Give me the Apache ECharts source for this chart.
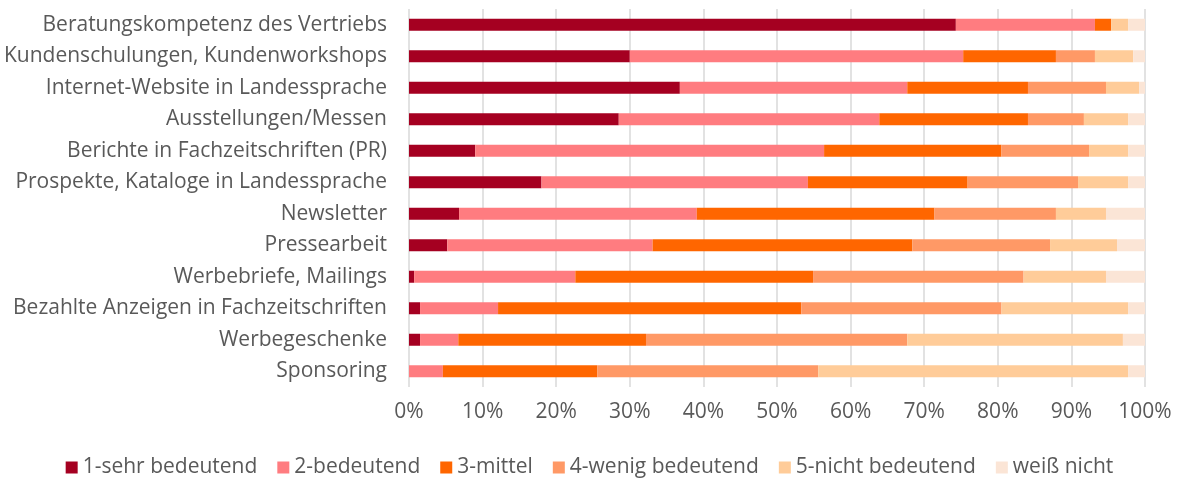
<!DOCTYPE html>
<html lang="de">
<head>
<meta charset="UTF-8">
<title>Bedeutung</title>
<style>
  html, body { margin: 0; padding: 0; background: #fff; }
  #main { width: 1179px; height: 482px; }
</style>
<script src="https://cdn.jsdelivr.net/npm/echarts@6/dist/echarts.min.js"></script>
</head>
<body>
<div id="main"></div>
<script>
// Kategorien von oben nach unten
var categories = [
  'Beratungskompetenz des Vertriebs',
  'Kundenschulungen, Kundenworkshops',
  'Internet-Website in Landessprache',
  'Ausstellungen/Messen',
  'Berichte in Fachzeitschriften (PR)',
  'Prospekte, Kataloge in Landessprache',
  'Newsletter',
  'Pressearbeit',
  'Werbebriefe, Mailings',
  'Bezahlte Anzeigen in Fachzeitschriften',
  'Werbegeschenke',
  'Sponsoring'
];

// Anteile in %
var sehrBedeutend  = [74.3, 30.0, 36.8, 28.5,  9.0, 18.0,  6.8,  5.2,  0.7,  1.5,  1.5,  0.0];
var bedeutend      = [18.9, 45.3, 30.9, 35.4, 47.4, 36.2, 32.3, 27.9, 21.9, 10.6,  5.2,  4.6];
var mittel         = [ 2.2, 12.6, 16.4, 20.2, 24.1, 21.7, 32.3, 35.3, 32.3, 41.2, 25.5, 21.0];
var wenigBedeutend = [ 0.0,  5.3, 10.6,  7.6, 11.9, 15.0, 16.5, 18.7, 28.6, 27.2, 35.5, 30.0];
var nichtBedeutend = [ 2.3,  5.2,  4.5,  6.0,  5.3,  6.8,  6.8,  9.1, 11.2, 17.2, 29.3, 42.1];
var weissNicht     = [ 2.3,  1.6,  0.8,  2.3,  2.3,  2.3,  5.3,  3.8,  5.3,  2.3,  3.0,  2.3];

var seriesNames = ['1-sehr bedeutend', '2-bedeutend', '3-mittel', '4-wenig bedeutend', '5-nicht bedeutend', 'weiß nicht'];
var seriesData = [sehrBedeutend, bedeutend, mittel, wenigBedeutend, nichtBedeutend, weissNicht];
var colors = ['#A50021', '#FF7C80', '#FF6600', '#FF9966', '#FFCC99', '#FBE5D6'];

var font = 'Open Sans';
var myChart = echarts.init(document.getElementById('main'));

var option = {
  animation: false,
  color: colors,
  legend: {
    bottom: -1,
    left: 'center',
    itemWidth: 12,
    itemHeight: 12,
    itemGap: 20,
    icon: 'rect',
    textStyle: { color: '#595959', fontSize: 21, fontFamily: font },
    data: seriesNames
  },
  grid: { left: 409, right: 34, top: 9, bottom: 95 },
  xAxis: {
    type: 'value',
    min: 0,
    max: 100,
    interval: 10,
    axisLine: { show: false },
    axisTick: { show: false },
    splitLine: { lineStyle: { color: '#D9D9D9', width: 1.5 } },
    axisLabel: { formatter: '{value}%', color: '#595959', fontSize: 21, fontFamily: font, margin: 15 }
  },
  yAxis: {
    type: 'category',
    inverse: true,
    data: categories,
    axisLine: { show: false },
    axisTick: { show: false },
    axisLabel: { color: '#595959', fontSize: 21, fontFamily: font, margin: 22 }
  },
  series: seriesNames.map(function (name, i) {
    return {
      name: name,
      type: 'bar',
      stack: 'total',
      barWidth: 12,
      data: seriesData[i]
    };
  })
};
myChart.setOption(option);
</script>
</body>
</html>
